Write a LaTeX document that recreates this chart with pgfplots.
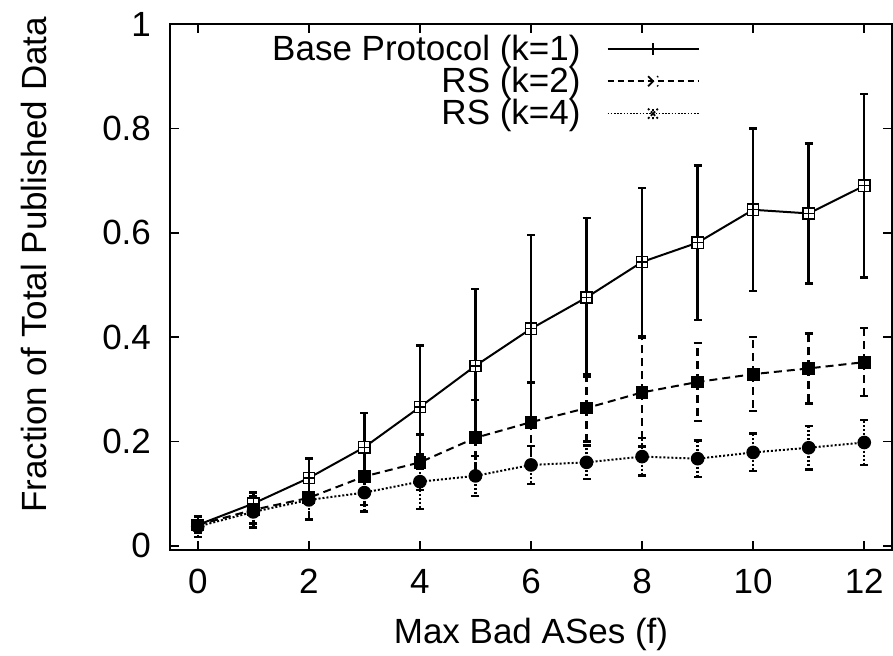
\documentclass[border=0pt]{standalone}
\usepackage{fontspec}
\setmainfont{Liberation Sans}
\usepackage{pgfplots}
\pgfplotsset{compat=1.18}
\usepackage{pgfplotstable}

\pgfdeclareplotmark{boxplus}{%
  \pgfpathrectangle{\pgfqpoint{-\pgfplotmarksize}{-\pgfplotmarksize}}{\pgfqpoint{2\pgfplotmarksize}{2\pgfplotmarksize}}%
  \pgfusepathqfillstroke
  \pgfpathmoveto{\pgfqpoint{-\pgfplotmarksize}{0pt}}\pgfpathlineto{\pgfqpoint{\pgfplotmarksize}{0pt}}%
  \pgfpathmoveto{\pgfqpoint{0pt}{-\pgfplotmarksize}}\pgfpathlineto{\pgfqpoint{0pt}{\pgfplotmarksize}}%
  \pgfusepathqstroke
}

\pgfplotstableread{
x y e
0 0.040 0.010
1 0.081 0.021
2 0.130 0.037
3 0.189 0.065
4 0.266 0.118
5 0.345 0.147
6 0.416 0.180
7 0.476 0.152
8 0.544 0.142
9 0.581 0.148
10 0.644 0.156
11 0.637 0.134
12 0.690 0.176
}\base
\pgfplotstableread{
x y e
0 0.040 0.015
1 0.069 0.026
2 0.092 0.040
3 0.133 0.055
4 0.160 0.053
5 0.207 0.073
6 0.237 0.076
7 0.264 0.064
8 0.294 0.104
9 0.314 0.075
10 0.329 0.071
11 0.340 0.067
12 0.352 0.065
}\rstwo
\pgfplotstableread{
x y e
0 0.037 0.020
1 0.065 0.030
2 0.088 0.038
3 0.102 0.036
4 0.123 0.052
5 0.134 0.038
6 0.155 0.036
7 0.160 0.032
8 0.171 0.036
9 0.167 0.035
10 0.179 0.036
11 0.188 0.042
12 0.198 0.043
}\rsfour

\begin{document}
\begin{tikzpicture}
\useasboundingbox (-85pt,-52.5pt) rectangle (361.5pt,275pt);
\begin{axis}[
  at={(0,0)}, anchor=south west,
  scale only axis, width=361pt, height=263pt,
  xmin=-0.5, xmax=12.5, ymin=-0.008, ymax=1,
  xtick={0,2,...,12}, ytick={0,0.2,...,1},
  yticklabels={0,0.2,0.4,0.6,0.8,1},
  tick pos=both, tick align=inside,
  major tick length=4.5pt,
  every tick/.style={black, line width=0.8pt},
  axis line style={line width=1pt},
  font=\fontsize{17.5}{20}\selectfont,
  /pgf/number format/assume math mode=true,
  ticklabel style={font=\fontsize{17.5}{20}\selectfont},
  yticklabel style={xshift=-6pt},
  xticklabel style={yshift=-6pt},
  xlabel={Max Bad ASes (f)},
  ylabel={Fraction of Total Published Data},
  xlabel style={at={(axis description cs:0.5,-0.16)}, anchor=center},
  ylabel style={at={(axis description cs:-0.188,0.542)}, anchor=center, rotate=0},
  legend plot pos=right,
  legend cell align=right,
  legend style={draw=none, fill=none, at={(rel axis cs:0.734,0.988)}, anchor=north east,
    font=\fontsize{17.5}{20}\selectfont, row sep=-2pt, inner sep=0pt,
    nodes={inner sep=2pt}},
  error bars/y dir=both, error bars/y explicit,
]
\addplot[black, line width=1pt,
  mark=boxplus, mark size=2.8pt, mark options={solid, fill=white, line width=0.7pt},
  error bars/error bar style={line width=1.2pt},
  error bars/error mark options={rotate=90, mark size=2pt, line width=1.2pt},
  legend image code/.code={\path (0pt,0pt); \draw[black, line width=1pt] (11pt,0pt) -- (56.5pt,0pt);
    \draw[black, line width=0.8pt] (33.75pt,-3pt) -- (33.75pt,3pt);}]
  table[x=x, y=y, y error=e] {\base};
\addlegendentry{Base Protocol (k=1)}
\addplot[black, line width=1pt, dash pattern=on 4pt off 2.5pt,
  mark=square*, mark size=2.7pt, mark options={solid},
  error bars/error bar style={line width=1.2pt},
  error bars/error mark options={rotate=90, mark size=2pt, line width=1.2pt},
  legend image code/.code={\path (0pt,0pt); \draw[black, line width=0.8pt, dash pattern=on 3pt off 2pt] (11pt,0pt) -- (56.5pt,0pt);
    \draw[black, line width=0.9pt] (31.25pt,-2.5pt) -- (36.25pt,2.5pt) (31.25pt,2.5pt) -- (36.25pt,-2.5pt);}]
  table[x=x, y=y, y error=e] {\rstwo};
\addlegendentry{RS (k=2)}
\addplot[black, line width=1pt, dash pattern=on 1pt off 1pt,
  mark=*, mark size=2.9pt, mark options={solid},
  error bars/error bar style={line width=1.2pt},
  error bars/error mark options={rotate=90, mark size=2pt, line width=1.2pt},
  legend image code/.code={\path (0pt,0pt); \draw[black, line width=0.8pt, dash pattern=on 0.8pt off 0.8pt] (11pt,0pt) -- (56.5pt,0pt);
    \draw[black, line width=0.9pt] (31.25pt,-2.5pt) -- (36.25pt,2.5pt) (31.25pt,2.5pt) -- (36.25pt,-2.5pt) (33.75pt,-2.8pt) -- (33.75pt,2.8pt);}]
  table[x=x, y=y, y error=e] {\rsfour};
\addlegendentry{RS (k=4)}
\end{axis}
\end{tikzpicture}
\end{document}
